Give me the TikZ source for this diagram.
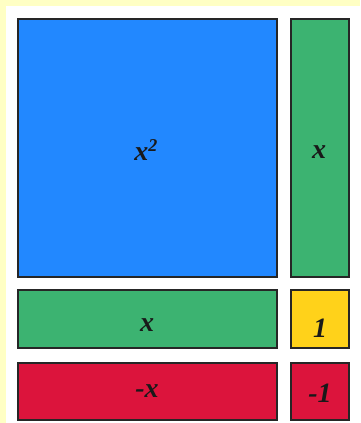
\documentclass[tikz,border=0pt]{standalone}
\usepackage{fontspec}
\setmainfont{Liberation Serif}
\definecolor{bgyel}{HTML}{FFFFC4}
\definecolor{tblue}{HTML}{2288FF}
\definecolor{tgreen}{HTML}{3CB371}
\definecolor{tgold}{HTML}{FFD21A}
\definecolor{tred}{HTML}{DC143C}
\begin{document}
\begin{tikzpicture}[x=1pt,y=-1pt,
  tile/.style={draw=black!85,line width=1.3pt},
  lbl/.style={font=\fontsize{28}{28}\selectfont\bfseries\itshape,text=black!90}]
\useasboundingbox (0,0) rectangle (360,423);
\fill[bgyel] (0,0) rectangle (360,423);
\fill[white] (6,6) rectangle (360,423);
\filldraw[tile,fill=tblue] (18,19) rectangle (277,277);
\filldraw[tile,fill=tgreen] (291,19) rectangle (349,277);
\filldraw[tile,fill=tgreen] (18,290) rectangle (277,348);
\filldraw[tile,fill=tgold] (291,290) rectangle (349,348);
\filldraw[tile,fill=tred] (18,363) rectangle (277,420);
\filldraw[tile,fill=tred] (291,363) rectangle (349,420);
\node[lbl] (sq) at (146,150) {x\textsuperscript{\fontsize{18}{18}\selectfont 2}};
\node[lbl] (gv) at (319,152) {x};
\node[lbl] (gh) at (147,325) {x};
\node[lbl] (one) at (320,328) {1};
\node[lbl] (mx) at (147,391) {-x};
\node[lbl] (mone) at (320,393) {-1};
\end{tikzpicture}
\end{document}
